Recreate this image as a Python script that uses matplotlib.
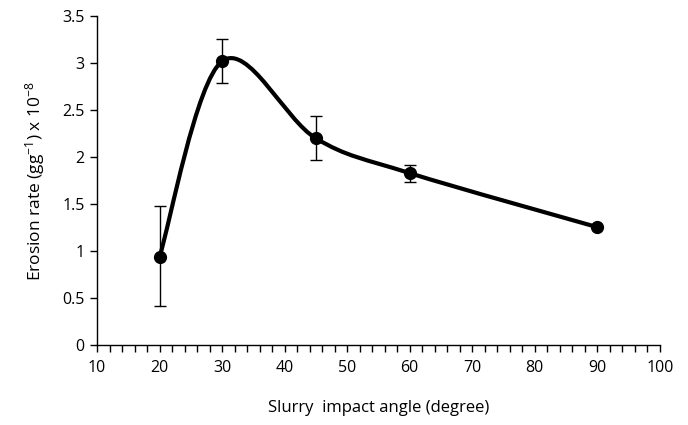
import matplotlib
matplotlib.use("Agg")
import matplotlib.pyplot as plt
import numpy as np
from matplotlib.path import Path
from matplotlib.patches import PathPatch
from matplotlib.ticker import MultipleLocator

angles = [20, 30, 45, 60, 90]
erosion = [0.94, 3.02, 2.20, 1.83, 1.255]
err_low = [0.52, 0.23, 0.23, 0.09, 0.0]
err_high = [0.54, 0.24, 0.24, 0.09, 0.0]

plt.rcParams['font.family'] = ['Open Sans', 'DejaVu Sans']
plt.rcParams['axes.unicode_minus'] = False
plt.rcParams['mathtext.fontset'] = 'custom'
plt.rcParams['mathtext.rm'] = 'Open Sans'
plt.rcParams['mathtext.it'] = 'Open Sans'

fig = plt.figure(figsize=(6.88, 4.25), dpi=100)
ax = fig.add_axes([0.141, 0.188, 0.818, 0.774])

# Excel-like smoothed line (Catmull-Rom as cubic Bezier)
pts = np.column_stack([angles, erosion]).astype(float)
n = len(pts)
verts = [tuple(pts[0])]
codes = [Path.MOVETO]
for i in range(n - 1):
    p0 = pts[i - 1] if i > 0 else pts[i]
    p1 = pts[i]
    p2 = pts[i + 1]
    p3 = pts[i + 2] if i + 2 < n else pts[i + 1]
    c1 = p1 + (p2 - p0) / 6.0
    c2 = p2 - (p3 - p1) / 6.0
    verts += [tuple(c1), tuple(c2), tuple(p2)]
    codes += [Path.CURVE4] * 3
ax.add_patch(PathPatch(Path(verts, codes), facecolor='none', edgecolor='black',
                       lw=3.0, capstyle='round', joinstyle='round', zorder=3))

ax.errorbar(angles, erosion, yerr=[err_low, err_high], fmt='none', ecolor='black',
            elinewidth=1.0, capsize=4.5, capthick=1.0, zorder=2)
ax.plot(angles, erosion, 'o', color='black', markersize=8.5, zorder=4)

ax.set_xlim(10, 100)
ax.set_ylim(0, 3.5)
ax.xaxis.set_major_locator(MultipleLocator(10))
ax.xaxis.set_minor_locator(MultipleLocator(2))
ax.set_yticks([0, 0.5, 1, 1.5, 2, 2.5, 3, 3.5])
ax.set_yticklabels(['0', '0.5', '1', '1.5', '2', '2.5', '3', '3.5'])

for s in ['top', 'right']:
    ax.spines[s].set_visible(False)
for s in ['left', 'bottom']:
    ax.spines[s].set_linewidth(1.0)

ax.tick_params(axis='both', which='major', direction='out', length=5, width=1.0,
               labelsize=11.5, colors='black', pad=4)
ax.tick_params(axis='x', which='minor', direction='out', length=5, width=1.0)
ax.tick_params(axis='x', which='major', pad=6)

ax.set_xlabel('Slurry  impact angle (degree)', fontsize=12, labelpad=17)
ax.set_ylabel('Erosion rate (gg$^{-1}$) x 10$^{-8}$', fontsize=12.5, labelpad=11)

fig.savefig('out.png', dpi=100)
